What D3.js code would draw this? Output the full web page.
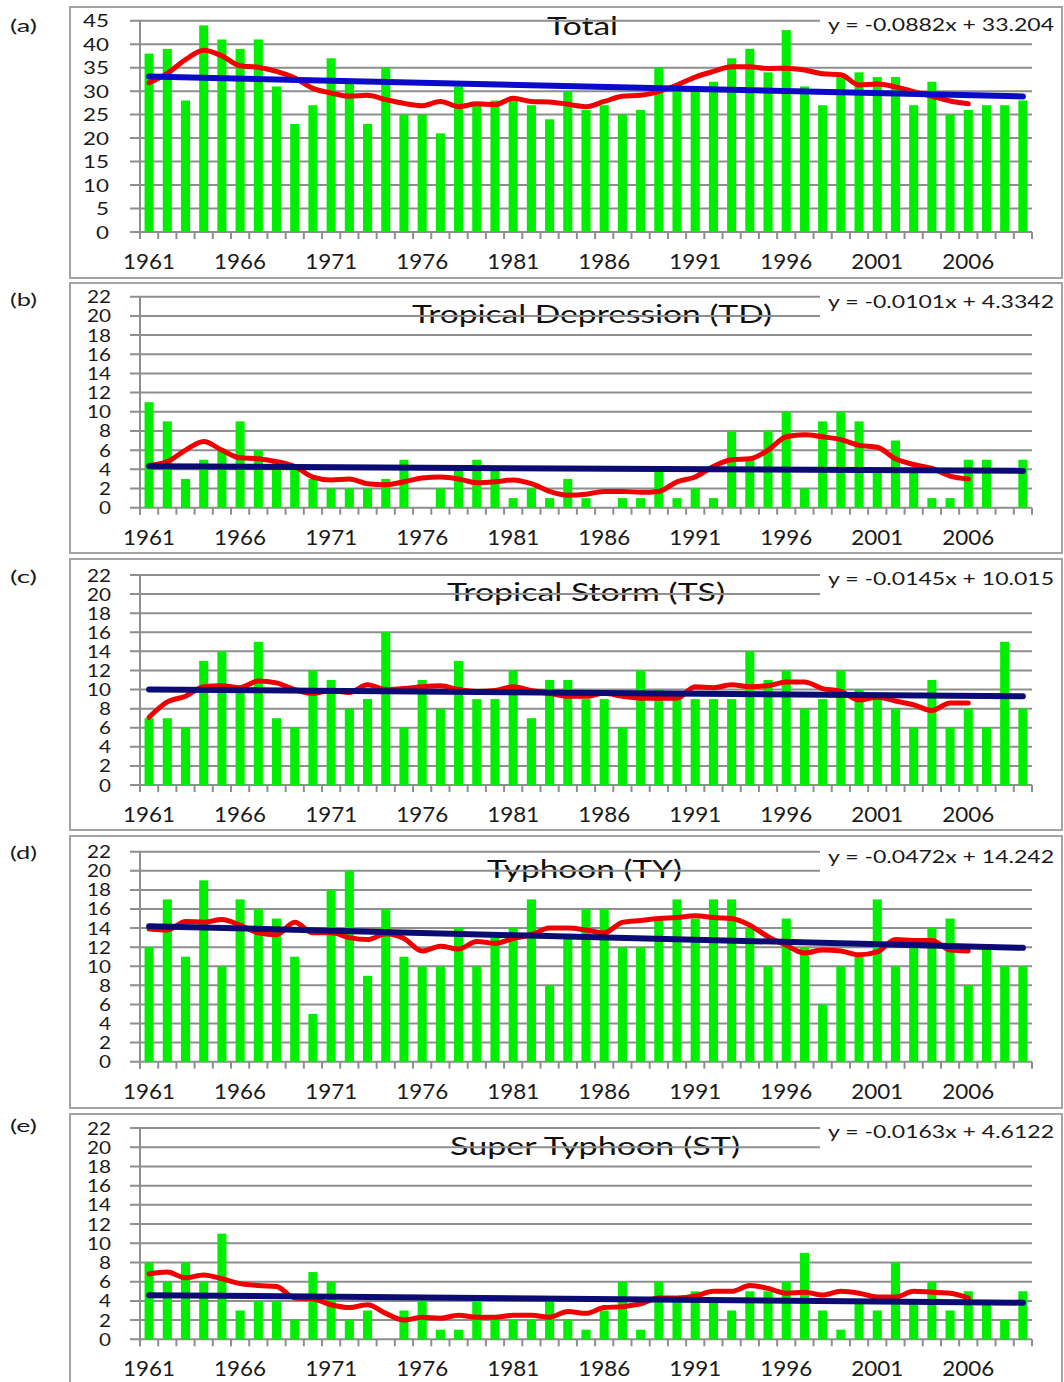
<!DOCTYPE html>
<html>
<head>
<meta charset="utf-8">
<script src="https://cdn.jsdelivr.net/npm/d3@7"></script>
<style>
    body { margin: 0; background: #fff; }
    text { font-family: Lato, "Open Sans", sans-serif; fill: #1a1a1a; }
</style>
</head>
<body>
<svg id="chart" width="1064" height="1382"></svg>
<script>
// categories
const years = [1961, 1962, 1963, 1964, 1965, 1966, 1967, 1968, 1969, 1970,
    1971, 1972, 1973, 1974, 1975, 1976, 1977, 1978, 1979, 1980,
    1981, 1982, 1983, 1984, 1985, 1986, 1987, 1988, 1989, 1990,
    1991, 1992, 1993, 1994, 1995, 1996, 1997, 1998, 1999, 2000,
    2001, 2002, 2003, 2004, 2005, 2006, 2007, 2008, 2009];
const xTickLabels = [1961, 1966, 1971, 1976, 1981, 1986, 1991, 1996, 2001, 2006];
const yTicksTotal = [0, 5, 10, 15, 20, 25, 30, 35, 40, 45];
const yTicksClass = [0, 2, 4, 6, 8, 10, 12, 14, 16, 18, 20, 22];

// yearly counts
const totalCounts = [38, 39, 28, 44, 41, 39, 41, 31, 23, 27, 37, 32, 23, 35, 25, 25, 21, 31, 27, 28,
    28, 27, 24, 30, 26, 27, 25, 26, 35, 31, 31, 32, 37, 39, 34, 43, 31, 27, 33, 34,
    33, 33, 27, 32, 25, 26, 27, 27, 28];
const tdCounts = [11, 9, 3, 5, 6, 9, 6, 5, 4, 3, 2, 2, 2, 3, 5, 0, 2, 4, 5, 4,
    1, 2, 1, 3, 1, 0, 1, 1, 4, 1, 2, 1, 8, 5, 8, 10, 2, 9, 10, 9,
    4, 7, 4, 1, 1, 5, 5, 0, 5];
const tsCounts = [7, 7, 6, 13, 14, 10, 15, 7, 6, 12, 11, 8, 9, 16, 6, 11, 8, 13, 9, 9,
    12, 7, 11, 11, 9, 9, 6, 12, 10, 9, 9, 9, 9, 14, 11, 12, 8, 9, 12, 10,
    9, 8, 6, 11, 6, 8, 6, 15, 8];
const tyCounts = [12, 17, 11, 19, 10, 17, 16, 15, 11, 5, 18, 20, 9, 16, 11, 10, 10, 14, 10, 13,
    14, 17, 8, 13, 16, 16, 12, 12, 15, 17, 15, 17, 17, 14, 10, 15, 12, 6, 10, 11,
    17, 10, 12, 14, 15, 8, 12, 10, 10];
const stCounts = [8, 6, 8, 6, 11, 3, 4, 4, 2, 7, 6, 2, 3, 0, 3, 4, 1, 1, 4, 2,
    2, 2, 4, 2, 1, 3, 6, 1, 6, 4, 5, 4, 3, 5, 5, 6, 9, 3, 1, 4,
    3, 8, 4, 6, 3, 5, 4, 2, 5];

// running means (1961-2006)
const totalSmooth = [31.8, 33.8, 36.7, 38.7, 37.5, 35.4, 35.1, 34.2, 32.8, 30.6, 29.6, 28.9, 29.1, 28.2, 27.4, 26.9,
    27.8, 26.7, 27.3, 27.1, 28.5, 27.8, 27.7, 27.2, 26.7, 27.8, 28.9, 29.1, 29.9, 31.3, 33.0, 34.2,
    35.2, 35.2, 34.8, 34.9, 34.5, 33.7, 33.5, 31.3, 31.5, 30.9, 29.9, 28.9, 27.9, 27.3];
const tdSmooth = [4.4, 4.8, 6.0, 6.9, 6.0, 5.2, 5.1, 4.8, 4.3, 3.2, 2.9, 3.0, 2.5, 2.4, 2.7, 3.1,
    3.2, 3.0, 2.6, 2.7, 2.9, 2.5, 1.7, 1.3, 1.4, 1.7, 1.7, 1.6, 1.7, 2.7, 3.2, 4.3,
    5.0, 5.1, 6.0, 7.4, 7.6, 7.4, 7.1, 6.5, 6.3, 5.1, 4.5, 4.1, 3.3, 3.0];
const tsSmooth = [7.1, 8.7, 9.3, 10.3, 10.4, 10.2, 10.9, 10.7, 10.0, 9.6, 9.9, 9.7, 10.5, 10.0, 10.1, 10.3,
    10.4, 10.0, 9.8, 9.9, 10.3, 9.9, 9.6, 9.3, 9.3, 9.6, 9.3, 9.1, 9.1, 9.1, 10.3, 10.2,
    10.5, 10.3, 10.4, 10.8, 10.8, 10.1, 9.8, 8.9, 9.2, 8.8, 8.4, 7.8, 8.6, 8.6];
const tySmooth = [13.9, 13.8, 14.7, 14.6, 14.9, 14.3, 13.5, 13.3, 14.6, 13.5, 13.5, 13.0, 12.8, 13.4, 12.9, 11.6,
    12.1, 11.8, 12.6, 12.4, 12.9, 13.3, 14.0, 14.0, 13.8, 13.5, 14.6, 14.8, 15.0, 15.1, 15.3, 15.1,
    15.0, 14.3, 13.1, 12.2, 11.4, 11.7, 11.6, 11.2, 11.5, 12.8, 12.7, 12.7, 11.7, 11.6];
const stSmooth = [6.8, 7.0, 6.4, 6.7, 6.3, 5.8, 5.6, 5.5, 4.3, 4.2, 3.6, 3.3, 3.6, 2.7, 2.0, 2.3,
    2.2, 2.5, 2.3, 2.3, 2.5, 2.5, 2.3, 2.9, 2.7, 3.3, 3.4, 3.7, 4.3, 4.3, 4.5, 5.0,
    5.0, 5.6, 5.3, 4.8, 4.9, 4.6, 5.0, 4.8, 4.4, 4.4, 5.0, 4.9, 4.8, 4.3];

// linear trends as printed on the chart
const trendSlopes = [-0.0882, -0.0101, -0.0145, -0.0472, -0.0163];
const trendIntercepts = [33.204, 4.3342, 10.015, 14.242, 4.6122];
const equationLabels = ["y = -0.0882x + 33.204", "y = -0.0101x + 4.3342", "y = -0.0145x + 10.015",
    "y = -0.0472x + 14.242", "y = -0.0163x + 4.6122"];
const panelTitles = ["Total", "Tropical Depression (TD)", "Tropical Storm (TS)", "Typhoon (TY)", "Super Typhoon (ST)"];
const panelLetters = ["(a)", "(b)", "(c)", "(d)", "(e)"];

const countSeries = [totalCounts, tdCounts, tsCounts, tyCounts, stCounts];
const smoothSeries = [totalSmooth, tdSmooth, tsSmooth, tySmooth, stSmooth];
const yTickSets = [yTicksTotal, yTicksClass, yTicksClass, yTicksClass, yTicksClass];

// layout of each panel (pixels)
const layout = [
    {top: 7, bottom: 278, plotTop: 20.7, plotBottom: 232, letterY: 32, titleX: 547, titleW: 71, titleY: 35, eqY: 31, boxH: 31, labelRight: 109, digitW: 13},
    {top: 283, bottom: 553, plotTop: 296.7, plotBottom: 507.7, letterY: 306, titleX: 412, titleW: 360, titleY: 323, eqY: 308, boxH: 34, labelRight: 111, digitW: 12},
    {top: 559, bottom: 830, plotTop: 575, plotBottom: 785, letterY: 583, titleX: 447, titleW: 278, titleY: 601, eqY: 585, boxH: 34, labelRight: 111, digitW: 12},
    {top: 836, bottom: 1108, plotTop: 851.7, plotBottom: 1061.7, letterY: 859, titleX: 487, titleW: 195, titleY: 878, eqY: 863, boxH: 34, labelRight: 111, digitW: 12},
    {top: 1114, bottom: 1396, plotTop: 1128, plotBottom: 1339.3, letterY: 1132, titleX: 450, titleW: 290, titleY: 1155, eqY: 1138, boxH: 34, labelRight: 111, digitW: 12}
];
const plotLeft = 140, plotRight = 1032, frameLeft = 70, frameRight = 1062;
const blueColors = ["#0a0ac8", "#0b0b74", "#0b0b74", "#0b0b74", "#0b0b74"];

const svg = d3.select("#chart");

const x = d3.scaleBand()
    .domain(years)
    .range([plotLeft, plotRight])
    .paddingInner(0.5)
    .paddingOuter(0.25);
const step = x.step();
const cx = d => x(d) + x.bandwidth() / 2;

layout.forEach(function (L, p) {
    let g = svg.append("g");
    let ticks = yTickSets[p];
    let y = d3.scaleLinear()
        .domain([0, d3.max(ticks)])
        .range([L.plotBottom, L.plotTop]);

    // frame
    g.append("rect")
        .attr("x", frameLeft).attr("y", L.top)
        .attr("width", frameRight - frameLeft).attr("height", L.bottom - L.top)
        .attr("fill", "#fff").attr("stroke", "#a3a3a3").attr("stroke-width", 2);

    g.append("text")
        .attr("x", 10).attr("y", L.letterY)
        .attr("font-size", 18)
        .attr("textLength", 27).attr("lengthAdjust", "spacingAndGlyphs")
        .text(panelLetters[p]);

    // title sits under the gridlines
    g.append("text")
        .attr("x", L.titleX).attr("y", L.titleY)
        .attr("font-size", 25)
        .attr("textLength", L.titleW).attr("lengthAdjust", "spacingAndGlyphs")
        .style("fill", "#111")
        .text(panelTitles[p]);

    // gridlines + left ticks
    g.selectAll("line.grid")
        .data(ticks)
        .enter().append("line")
        .attr("x1", plotLeft - 10).attr("x2", plotRight)
        .attr("y1", d => y(d)).attr("y2", d => y(d))
        .attr("stroke", "#8e8e8e").attr("stroke-width", 2);

    // y axis
    g.append("line")
        .attr("x1", plotLeft).attr("x2", plotLeft)
        .attr("y1", L.plotTop).attr("y2", L.plotBottom + 7)
        .attr("stroke", "#8e8e8e").attr("stroke-width", 2);

    // bottom ticks at category boundaries
    g.selectAll("line.xtick")
        .data(d3.range(years.length + 1))
        .enter().append("line")
        .attr("x1", i => plotLeft + i * step).attr("x2", i => plotLeft + i * step)
        .attr("y1", L.plotBottom).attr("y2", L.plotBottom + 7)
        .attr("stroke", "#8e8e8e").attr("stroke-width", 2);

    // y labels
    g.selectAll("text.ylab")
        .data(ticks)
        .enter().append("text")
        .attr("x", L.labelRight).attr("y", d => y(d))
        .attr("text-anchor", "end").attr("dominant-baseline", "central")
        .attr("font-size", 17)
        .attr("textLength", d => String(d).length * L.digitW)
        .attr("lengthAdjust", "spacingAndGlyphs")
        .text(d => d);

    // x labels
    g.selectAll("text.xlab")
        .data(xTickLabels)
        .enter().append("text")
        .attr("x", d => cx(d)).attr("y", L.plotBottom + 37)
        .attr("text-anchor", "middle")
        .attr("font-size", 21)
        .attr("textLength", 52).attr("lengthAdjust", "spacingAndGlyphs")
        .text(d => d);

    // bars
    g.selectAll("rect.bar")
        .data(countSeries[p])
        .enter().append("rect")
        .attr("x", (d, i) => x(years[i]))
        .attr("width", x.bandwidth())
        .attr("y", d => y(d))
        .attr("height", d => L.plotBottom - y(d))
        .attr("fill", "#00ef00");

    // running mean
    let line = d3.line()
        .x((d, i) => cx(years[i]))
        .y(d => y(d))
        .curve(d3.curveMonotoneX);
    g.append("path")
        .attr("d", line(smoothSeries[p]))
        .attr("fill", "none")
        .attr("stroke", "#f00000").attr("stroke-width", 5)
        .attr("stroke-linejoin", "round").attr("stroke-linecap", "round");

    // trend from printed equation
    let ends = [1, years.length];
    g.append("line")
        .attr("x1", cx(years[0])).attr("x2", cx(years[years.length - 1]))
        .attr("y1", y(trendSlopes[p] * ends[0] + trendIntercepts[p]))
        .attr("y2", y(trendSlopes[p] * ends[1] + trendIntercepts[p]))
        .attr("stroke", blueColors[p]).attr("stroke-width", 6)
        .attr("stroke-linecap", "round");

    // equation label with white box
    g.append("rect")
        .attr("x", 820).attr("y", L.eqY - 22)
        .attr("width", frameRight - 821).attr("height", L.boxH)
        .attr("fill", "#fff");
    g.append("text")
        .attr("x", 828).attr("y", L.eqY)
        .attr("font-size", 18)
        .attr("textLength", 226).attr("lengthAdjust", "spacingAndGlyphs")
        .text(equationLabels[p]);
});
</script>
</body>
</html>
